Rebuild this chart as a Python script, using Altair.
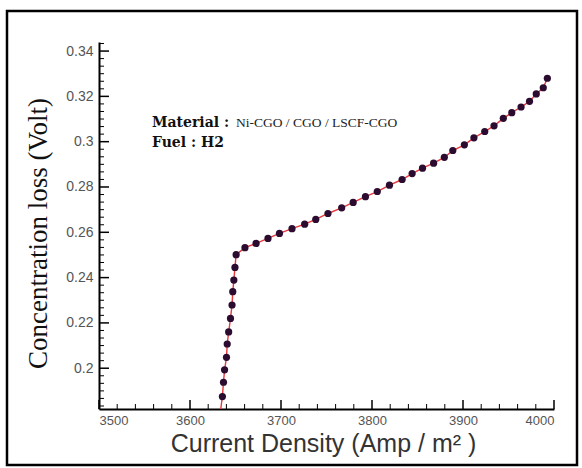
import altair as alt
import pandas as pd

# Measured polarisation data: current density (A/m^2) vs. concentration loss (V)
current_density = [3635.6, 3636.8, 3638.0, 3640.1, 3640.9, 3642.5, 3644.5, 3646.2,
                   3647.0, 3648.2, 3649.4, 3650.7, 3660.4, 3672.6, 3685.7, 3698.3,
                   3712.1, 3726.0, 3738.2, 3751.6, 3766.7, 3779.3, 3792.8, 3805.8,
                   3819.2, 3833.1, 3844.1, 3855.5, 3867.7, 3879.5, 3888.8, 3901.5,
                   3912.0, 3923.9, 3934.1, 3944.3, 3953.6, 3963.8, 3973.1, 3980.5,
                   3988.2, 3992.7]
conc_loss = [0.1875, 0.1938, 0.1993, 0.2048, 0.2107, 0.2160, 0.2220, 0.2279,
             0.2338, 0.2389, 0.2445, 0.2501, 0.2532, 0.2551, 0.2573, 0.2595,
             0.2616, 0.2636, 0.2657, 0.2683, 0.2708, 0.2732, 0.2757, 0.2780,
             0.2808, 0.2833, 0.2859, 0.2883, 0.2905, 0.2931, 0.2961, 0.2986,
             0.3017, 0.3045, 0.3070, 0.3103, 0.3128, 0.3153, 0.3178, 0.3211,
             0.3238, 0.3280]
# the fitted curve continues below the lowest marker down to the axis
curve_start_x = [3633.8]
curve_start_y = [0.182]

# axis ticks
x_major = [3500, 3600, 3700, 3800, 3900, 4000]
y_major = [0.20, 0.22, 0.24, 0.26, 0.28, 0.30, 0.32, 0.34]
x_domain = [3500, 4000]
y_domain = [0.182, 0.344]

W, H = 455, 367

x_minor = [v + 20 * k for v in x_major[:-1] for k in range(1, 5)]
y_minor = [round(v + 0.02 / 6 * k, 5) for v in [0.18] + y_major for k in range(1, 6)]
y_minor = [v for v in y_minor if y_domain[0] <= v <= y_domain[1]]

pts = pd.DataFrame({"j": current_density, "v": conc_loss})
curve = pd.DataFrame({"j": curve_start_x + current_density,
                      "v": curve_start_y + conc_loss})

xs = alt.Scale(domain=x_domain, nice=False, zero=False)
ys = alt.Scale(domain=y_domain, nice=False, zero=False)

x_axis = alt.Axis(values=x_major, format="d", ticks=False, grid=False,
                  domainColor="black", domainWidth=2,
                  labelFont="Liberation Sans", labelFontSize=13, labelColor="#555555",
                  labelPadding=5,
                  title="Current Density (Amp / m² )",
                  titleFont="Liberation Sans", titleFontSize=25, titleFontWeight="normal",
                  titleColor="#333333", titleX=224, titleY=42, titleBaseline="alphabetic")
y_axis = alt.Axis(values=y_major, format="~g", ticks=False, grid=False,
                  domainColor="black", domainWidth=2,
                  labelFont="Liberation Sans", labelFontSize=14, labelColor="#555555",
                  labelPadding=6,
                  title="Concentration loss (Volt)",
                  titleFont="Liberation Serif", titleFontSize=27, titleFontWeight="normal",
                  titleColor="#111111", titleX=-47, titleY=191, titleAngle=270,
                  titleBaseline="bottom")

one = alt.Data(values=[{"k": 1}])

frame = alt.Chart(one).mark_rect(fill=None, stroke="black", strokeWidth=2.5).encode(
    x=alt.value(-92), x2=alt.value(478), y=alt.value(-31), y2=alt.value(423))

xt_major = alt.Chart(pd.DataFrame({"t": x_major})).mark_rule(color="black", strokeWidth=1.5).encode(
    x=alt.X("t:Q", scale=xs, axis=x_axis), y=alt.value(H), y2=alt.value(H - 9))
xt_minor = alt.Chart(pd.DataFrame({"t": x_minor})).mark_rule(color="black", strokeWidth=1).encode(
    x=alt.X("t:Q", scale=xs), y=alt.value(H), y2=alt.value(H - 5))
yt_major = alt.Chart(pd.DataFrame({"t": y_major})).mark_rule(color="black", strokeWidth=1.5).encode(
    y=alt.Y("t:Q", scale=ys, axis=y_axis), x=alt.value(0), x2=alt.value(10))
yt_minor = alt.Chart(pd.DataFrame({"t": y_minor})).mark_rule(color="black", strokeWidth=1).encode(
    y=alt.Y("t:Q", scale=ys), x=alt.value(0), x2=alt.value(5))

line = alt.Chart(curve).mark_line(color="#e8383c", strokeWidth=1.4, clip=True).encode(
    x=alt.X("j:Q", scale=xs), y=alt.Y("v:Q", scale=ys))
dots = alt.Chart(pts).mark_circle(color="#2b0c30", opacity=1, size=52).encode(
    x=alt.X("j:Q", scale=xs), y=alt.Y("v:Q", scale=ys))

lbl_bold = alt.Chart(one).mark_text(
    text="Material :", font="DejaVu Serif", fontWeight="bold", fontSize=14,
    align="left", baseline="alphabetic", color="#111111").encode(x=alt.value(53), y=alt.value(85))
lbl_mat = alt.Chart(one).mark_text(
    text="Ni-CGO / CGO / LSCF-CGO", font="Liberation Serif", fontSize=13.5,
    align="left", baseline="alphabetic", color="#222222").encode(x=alt.value(137), y=alt.value(85))
lbl_fuel = alt.Chart(one).mark_text(
    text="Fuel : H2", font="DejaVu Serif", fontWeight="bold", fontSize=14,
    align="left", baseline="alphabetic", color="#111111").encode(x=alt.value(53), y=alt.value(105))

chart = alt.layer(
    frame, xt_minor, yt_minor, xt_major, yt_major, line, dots, lbl_bold, lbl_mat, lbl_fuel
).properties(
    width=W, height=H,
    autosize=alt.AutoSizeParams(type="none"),
    padding={"left": 99, "top": 42, "right": 28, "bottom": 59},
    background="white",
).configure_view(strokeWidth=0)

chart.save("out.html", embed_options={"renderer": "svg", "actions": False})
